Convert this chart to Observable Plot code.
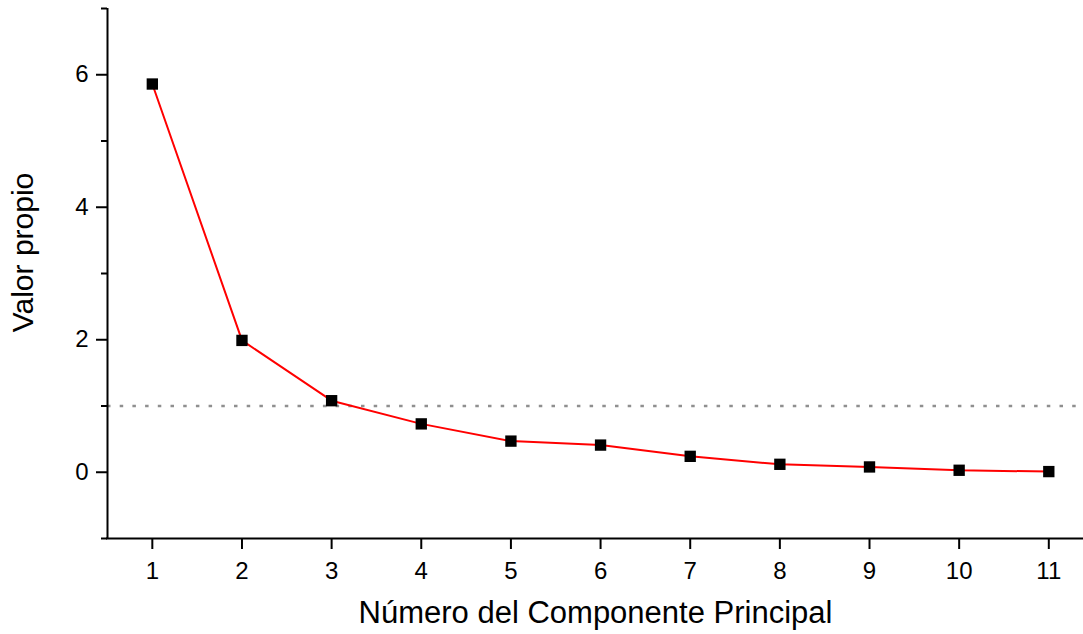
<!DOCTYPE html>
<html>
<head>
<meta charset="utf-8">
<script src="https://cdn.jsdelivr.net/npm/d3@7"></script>
<script src="https://cdn.jsdelivr.net/npm/@observablehq/plot@0.6"></script>
<style>
  html, body { margin: 0; padding: 0; background: #ffffff; }
  #chart svg { display: block; }
</style>
</head>
<body>
<div id="chart"></div>
<script>
// Data
const components = [1, 2, 3, 4, 5, 6, 7, 8, 9, 10, 11];
const eigenvalues = [5.86, 1.99, 1.08, 0.73, 0.47, 0.41, 0.24, 0.12, 0.08, 0.03, 0.01];
const xTicks = [1, 2, 3, 4, 5, 6, 7, 8, 9, 10, 11];
const yMajorTicks = [0, 2, 4, 6];
const yMinorTicks = [-1, 1, 3, 5, 7];
const threshold = [1];
const xLabel = "Número del Componente Principal";
const yLabel = "Valor propio";

const data = components.map((c, i) => ({component: c, value: eigenvalues[i]}));

const chart = Plot.plot({
  width: 1083,
  height: 634,
  marginLeft: 107,
  marginRight: 0,
  marginTop: 8,
  marginBottom: 96,
  style: {fontFamily: "'Liberation Sans', Arial, sans-serif", background: "#ffffff", color: "#000"},
  x: {domain: [0.5, 11.387], axis: null},
  y: {domain: [-1, 7], axis: null},
  marks: [
    // reference line at 1
    Plot.ruleY(threshold, {stroke: "#8f8f8f", strokeWidth: 2.5, strokeDasharray: "3.5 9.2"}),
    // axis lines
    Plot.ruleX([0.5], {stroke: "#000", strokeWidth: 2}),
    Plot.ruleY([-1], {stroke: "#000", strokeWidth: 2, strokeLinecap: "square"}),
    // y axis ticks
    Plot.axisY({ticks: yMajorTicks, tickSize: 11, text: null, strokeWidth: 2, label: null}),
    Plot.axisY({ticks: yMinorTicks, tickSize: 6, text: null, strokeWidth: 2, label: null}),
    Plot.text(yMajorTicks, {y: d => d, frameAnchor: "left", textAnchor: "end", lineAnchor: "middle", dx: -19, fontSize: 24, fill: "#000", text: d => String(d)}),
    // x axis ticks
    Plot.axisX({ticks: xTicks, tickSize: 11, text: null, strokeWidth: 2, label: null}),
    Plot.text(xTicks, {x: d => d, frameAnchor: "bottom", textAnchor: "middle", lineAnchor: "top", dy: 23, fontSize: 24, fill: "#000", text: d => String(d)}),
    // axis titles
    Plot.text([xLabel], {frameAnchor: "bottom", lineAnchor: "middle", textAnchor: "middle", dy: 75, fontSize: 31, fill: "#000"}),
    Plot.text([yLabel], {frameAnchor: "left", lineAnchor: "middle", textAnchor: "middle", dx: -84, dy: -21, rotate: -90, fontSize: 30, fill: "#000"}),
    // scree line and markers
    Plot.line(data, {x: "component", y: "value", stroke: "#ff0000", strokeWidth: 2}),
    Plot.dot(data, {x: "component", y: "value", symbol: "square", r: 6.4, fill: "#000", stroke: "none"})
  ]
});

document.getElementById("chart").append(chart);
</script>
</body>
</html>
